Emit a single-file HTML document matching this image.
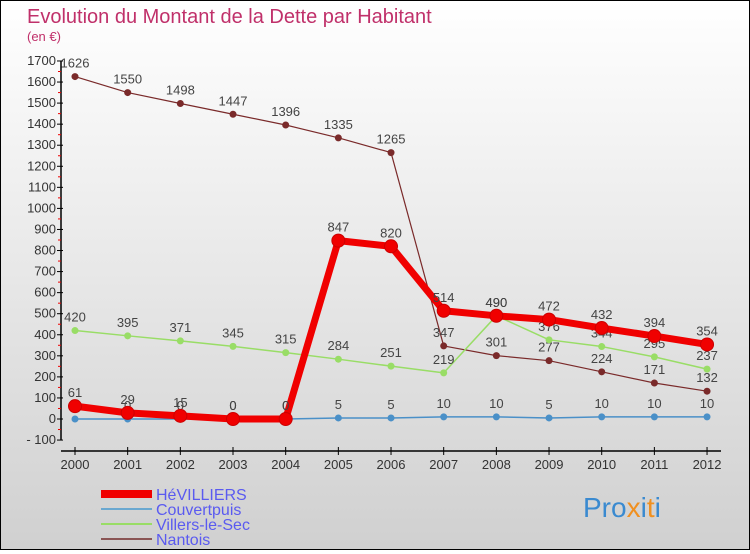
<!DOCTYPE html>
<html><head><meta charset="utf-8"><style>
body{margin:0}
#c{width:748px;height:548px;border:1px solid #000;background:linear-gradient(#ffffff,#d0d0d0);position:relative;font-family:"Liberation Sans",sans-serif}
svg text{font-family:"Liberation Sans",sans-serif}
</style></head><body>
<div id="c">
<svg id="s" width="748" height="548">
<text x="26" y="22" font-size="20" fill="#c0306a">Evolution du Montant de la Dette par Habitant</text>
<text x="26" y="40" font-size="13" fill="#c0306a">(en €)</text>
</svg>
</div>
<script>
const years=[2000,2001,2002,2003,2004,2005,2006,2007,2008,2009,2010,2011,2012];
const hev=[61,29,15,0,0,847,820,514,490,472,432,394,354];
const cou=[0,0,0,0,0,5,5,10,10,5,10,10,10];
const vil=[420,395,371,345,315,284,251,219,490,376,344,295,237];
const nan=[1626,1550,1498,1447,1396,1335,1265,347,301,277,224,171,132];
const yTicks=[-100,0,100,200,300,400,500,600,700,800,900,1000,1100,1200,1300,1400,1500,1600,1700];
const NS='http://www.w3.org/2000/svg';const s=document.getElementById('s');
const X=i=>74+i*52.67;const Y=v=>418-v*0.2106;
function el(t,a,p){const e=document.createElementNS(NS,t);for(const k in a)e.setAttribute(k,a[k]);(p||s).appendChild(e);return e;}
let ya=el('line',{x1:60,y1:Y(1700),x2:60,y2:Y(-100),stroke:'#000','stroke-width':1.5});


yTicks.forEach(v=>{
 let t=el('line',{x1:56,x2:62,y1:Y(v),y2:Y(v),stroke:'#000'});
 
 
 if(v<1700){let m=el('line',{x1:57,x2:60,y1:Y(v+50),y2:Y(v+50),stroke:'#e00'});
 
 }
 let l=el('text',{x:55,y:Y(v)+4,'font-size':13,'text-anchor':'end',fill:'#333'});l.textContent=v<0?'- '+(-v):v;
 
 
});
let xa=el('line',{x1:60,y1:450,x2:720,y2:450,stroke:'#000','stroke-width':1.5});


years.forEach((y,i)=>{
 let t=el('line',{x1:X(i),x2:X(i),y1:446,y2:454,stroke:'#000'});
 
 
 let l=el('text',{x:X(i),y:468,'font-size':13,'text-anchor':'middle',fill:'#333'});l.textContent=y;
 
 
});
function series(d,col,w,r,name,lab){
 let p=el('polyline',{points:d.map((v,i)=>X(i)+','+Y(v)).join(' '),fill:'none',stroke:col,'stroke-width':w,'stroke-linejoin':'round'});
 
 
 d.forEach((v,i)=>{
  let c=el('circle',{cx:X(i),cy:Y(v),r:r,fill:col,stroke:w>3?'#c00':'none'});
  
  
  if(lab){let t=el('text',{x:X(i),y:Y(v)-9,'font-size':13,'text-anchor':'middle',fill:'#444'});t.textContent=v;
  
  }
 });
}
series(nan,'#7a2a2a',1.2,3.5,'nantois',true);
series(vil,'#99dd66',1.5,3.5,'villers-le-sec',true);
series(cou,'#4a90c8',1.5,3.5,'couvertpuis',true);
series(hev,'#f00000',7,6.5,'hevilliers',true);
const leg=[['HéVILLIERS','#f00000',8],['Couvertpuis','#6aa8d0',2],['Villers-le-Sec','#99dd66',2],['Nantois','#8a5555',2]];
leg.forEach((l,i)=>{
 let y=493+i*15;
 let ln=el('line',{x1:100,x2:151,y1:y,y2:y,stroke:l[1],'stroke-width':l[2]});
 
 
 let t=el('text',{x:155,y:y+6,'font-size':16,fill:'#5a5af0'});t.textContent=l[0];
 
 
});
let b=el('text',{x:582,y:516,'font-size':28,fill:'#3a8ad0'});


b.innerHTML='<tspan fill="#3a8ad0">Pro</tspan><tspan fill="#f09020">x</tspan><tspan fill="#3a8ad0">i</tspan><tspan fill="#f09020">t</tspan><tspan fill="#3a8ad0">i</tspan>';
</script>
</body></html>
